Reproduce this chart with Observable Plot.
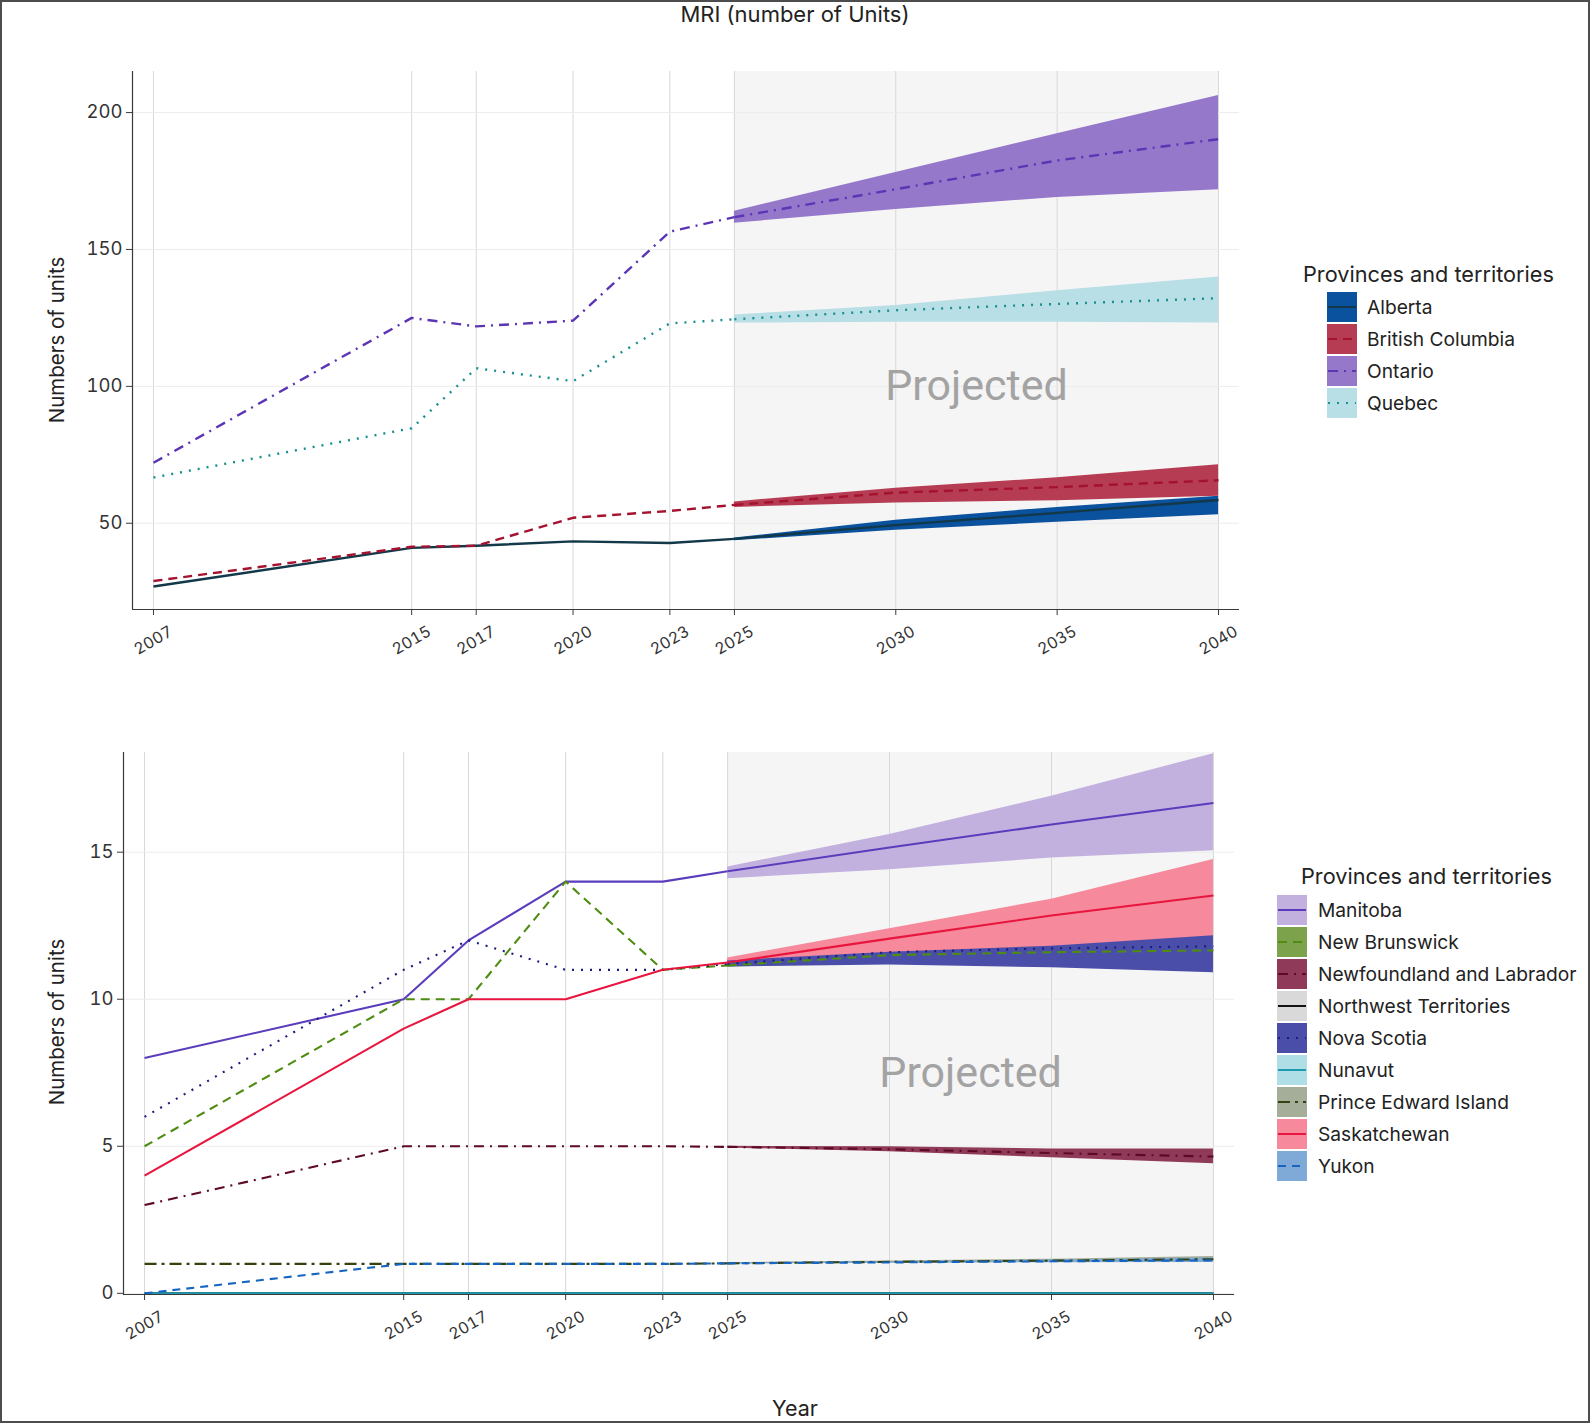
<!DOCTYPE html>
<html><head><meta charset="utf-8">
<script src="https://cdn.jsdelivr.net/npm/d3@7"></script>
<script src="https://cdn.jsdelivr.net/npm/@observablehq/plot@0.6"></script>
<style>
html,body{margin:0;padding:0;background:#fff;}
#root{position:relative;width:1590px;height:1423px;overflow:hidden;font-family:Inter,Roboto,sans-serif;color:#222;background:#fff;}
#frame{position:absolute;left:0;top:0;width:1590px;height:1423px;box-sizing:border-box;border:2px solid #4d4d4d;pointer-events:none;}
.abs{position:absolute;}
.title{left:0;width:1590px;top:2px;text-align:center;font-size:22px;line-height:24px;color:#222;}
.xlabel{left:0;width:1590px;top:1395px;text-align:center;font-size:21.5px;line-height:26px;color:#222;}
.ylabel{font-size:20.5px;white-space:nowrap;transform:translate(-50%,-50%) rotate(-90deg);color:#222;}
.legtitle{font-size:21.7px;line-height:24px;white-space:nowrap;color:#222;}
.legitem{font-size:19.2px;line-height:22px;white-space:nowrap;color:#222;}
svg.legsw{position:absolute;}
</style></head><body>
<div id="root">
  <div class="abs title">MRI (number of Units)</div>
  <div id="top" class="abs" style="left:0;top:0;"></div>
  <div id="bottom" class="abs" style="left:0;top:700px;"></div>
  <div class="abs ylabel" style="left:56px;top:340px;">Numbers of units</div>
  <div class="abs ylabel" style="left:56px;top:1022px;">Numbers of units</div>
  <div class="abs xlabel">Year</div>
  <div id="frame"></div>
</div>
<script>
// ---------- shared axes ----------
const histYears = [2007, 2015, 2017, 2020, 2023, 2025];
const projYears = [2025, 2030, 2035, 2040];
const xTickYears = [2007, 2015, 2017, 2020, 2023, 2025, 2030, 2035, 2040];
const topYTicks = [50, 100, 150, 200];
const bottomYTicks = [0, 5, 10, 15];
const projectedLabel = "Projected";
const legendTitle = "Provinces and territories";

// ---------- top panel: large provinces ----------
const topNames = ["Alberta", "British Columbia", "Ontario", "Quebec"];
const albertaHist = [26.9, 41.0, 41.8, 43.4, 42.8, 44.3];
const albertaProj = [44.3, 49.3, 53.8, 58.5];
const albertaLow  = [43.6, 47.4, 50.4, 53.1];
const albertaHigh = [44.6, 51.1, 55.8, 59.9];
const bcHist = [28.9, 41.4, 41.8, 52.0, 54.5, 56.7];
const bcProj = [56.7, 61.2, 63.2, 65.7];
const bcLow  = [55.8, 57.4, 58.2, 59.9];
const bcHigh = [57.8, 62.8, 66.6, 71.4];
const ontarioHist = [72.1, 125.0, 121.9, 124.0, 156.5, 161.8];
const ontarioProj = [161.8, 172.0, 182.5, 190.3];
const ontarioLow  = [159.6, 164.6, 169.0, 171.8];
const ontarioHigh = [164.0, 178.1, 192.3, 206.2];
const quebecHist = [66.7, 84.7, 106.6, 101.9, 123.0, 124.5];
const quebecProj = [124.5, 127.8, 130.1, 132.2];
const quebecLow  = [123.1, 123.4, 123.4, 123.1];
const quebecHigh = [126.1, 129.5, 134.9, 139.9];
const topBandColors = ["#0a529d", "#b63c53", "#9678cb", "#b8dfe6"];
const topLineColors = ["#12384a", "#a5122f", "#5c35b5", "#17908f"];
const topDashes = [null, "9,6", "10,6,2,6", "2,7"];

// ---------- bottom panel: smaller provinces & territories ----------
const bottomNames = ["Manitoba", "New Brunswick", "Newfoundland and Labrador", "Northwest Territories",
  "Nova Scotia", "Nunavut", "Prince Edward Island", "Saskatchewan", "Yukon"];
const manitobaHist = [8, 10, 12, 14, 14, 14.35];
const manitobaProj = [14.35, 15.16, 15.94, 16.67];
const manitobaLow  = [14.1, 14.4, 14.8, 15.05];
const manitobaHigh = [14.5, 15.6, 16.9, 18.35];
const nbHist = [5, 10, 10, 14, 11, 11.15];
const nbProj = [11.15, 11.5, 11.6, 11.66];
const nbLow  = [11.1, 11.2, 11.15, 11.1];
const nbHigh = [11.2, 11.55, 11.65, 11.75];
const nlHist = [3, 5, 5, 5, 5, 4.98];
const nlProj = [4.98, 4.9, 4.77, 4.65];
const nlLow  = [4.94, 4.81, 4.61, 4.41];
const nlHigh = [5.0, 4.98, 4.91, 4.91];
const nwtHist = [0, 0, 0, 0, 0, 0];
const nwtProj = [0, 0, 0, 0];
const nwtLow  = [0, 0, 0, 0];
const nwtHigh = [0, 0, 0, 0];
const nsHist = [6, 11, 12, 11, 11, 11.2];
const nsProj = [11.2, 11.6, 11.73, 11.8];
const nsLow  = [11.1, 11.16, 11.07, 10.9];
const nsHigh = [11.3, 11.6, 11.8, 12.16];
const nunavutHist = [0, 0, 0, 0, 0, 0];
const nunavutProj = [0, 0, 0, 0];
const nunavutLow  = [0, 0, 0, 0];
const nunavutHigh = [0, 0, 0, 0];
const peiHist = [1, 1, 1, 1, 1, 1.02];
const peiProj = [1.02, 1.07, 1.11, 1.16];
const peiLow  = [1.0, 1.03, 1.05, 1.07];
const peiHigh = [1.04, 1.1, 1.16, 1.25];
const skHist = [4, 9, 10, 10, 11, 11.25];
const skProj = [11.25, 12.06, 12.85, 13.53];
const skLow  = [11.15, 11.45, 11.7, 11.9];
const skHigh = [11.4, 12.4, 13.4, 14.75];
const yukonHist = [0, 1, 1, 1, 1, 1.02];
const yukonProj = [1.02, 1.05, 1.09, 1.12];
const yukonLow  = [1.0, 1.02, 1.04, 1.05];
const yukonHigh = [1.04, 1.08, 1.13, 1.2];
const bottomBandColors = ["#c2b1df", "#7ca34c", "#8f3a58", "#d9d9d9", "#4a4ea8", "#b0dee6", "#a5ae98", "#f6899b", "#7fa9d6"];
const bottomLineColors = ["#5b3cbc", "#4f8c12", "#5e0a25", "#111111", "#1b1b80", "#1e9aae", "#33420f", "#e8163f", "#1665c0"];
const bottomDashes = [null, "9,6", "10,6,2,6", null, "2,7", null, "12,5,3,5", null, "8,6"];
const bottomBandOrder = ["Manitoba", "Saskatchewan", "New Brunswick", "Nova Scotia", "Newfoundland and Labrador",
  "Prince Edward Island", "Yukon", "Northwest Territories", "Nunavut"];

// ---------- build panels ----------
function makePanel(cfg) {
  const series = cfg.names.map((name, i) => ({
    name,
    hist: histYears.map((x, j) => ({x, y: cfg.hist[i][j]})),
    proj: projYears.map((x, j) => ({x, y: cfg.proj[i][j], lo: cfg.low[i][j], hi: cfg.high[i][j]})),
    band: cfg.bandColors[i], line: cfg.lineColors[i], dash: cfg.dashes[i]
  }));
  const byName = new Map(series.map(s => [s.name, s]));
  const bandSeries = (cfg.bandOrder || cfg.names).map(nm => byName.get(nm));
  const p0 = projYears[0], p1 = projYears[projYears.length - 1];
  const marks = [
    Plot.rect([{x1: p0, x2: p1}], {x1: "x1", x2: "x2", fill: "#f5f5f5"}),
    Plot.gridX({ticks: xTickYears, stroke: "#d8d8d8", strokeOpacity: 1, strokeWidth: 1}),
    Plot.gridY({ticks: cfg.yTicks, stroke: "#ececec", strokeOpacity: 1, strokeWidth: 1}),
    Plot.text([{x: (p0 + p1) / 2, y: cfg.labelY, label: projectedLabel}],
      {x: "x", y: "y", text: "label", fontSize: 43, fill: "#a3a3a3", fontFamily: "Roboto"})
  ];
  for (const s of bandSeries) {
    marks.push(Plot.areaY(s.proj, {x: "x", y1: "lo", y2: "hi", fill: s.band, fillOpacity: 1}));
  }
  for (const s of series) {
    const o = {x: "x", y: "y", stroke: s.line, strokeWidth: cfg.strokeWidth, strokeLinecap: "butt", strokeLinejoin: "round"};
    if (s.dash) o.strokeDasharray = s.dash;
    marks.push(Plot.line(s.hist, o));
    marks.push(Plot.line(s.proj, o));
  }
  marks.push(
    Plot.ruleX([cfg.xDomain[0]], {stroke: "#3a3a3a", strokeWidth: 1.2}),
    Plot.ruleY([cfg.yDomain[0]], {stroke: "#3a3a3a", strokeWidth: 1.2}),
    Plot.axisX({ticks: xTickYears, tickFormat: d => String(d), tickRotate: -30, textAnchor: "middle",
      lineAnchor: "middle", tickSize: 6, tickPadding: 25, fontSize: 16, label: null, stroke: "#3a3a3a", fill: "#333"}),
    Plot.axisY({ticks: cfg.yTicks, tickFormat: d => String(d), tickSize: 6, tickPadding: 4, fontSize: 18.5,
      label: null, stroke: "#3a3a3a", fill: "#333"})
  );
  return Plot.plot({
    width: 1590, height: cfg.height,
    marginLeft: cfg.left, marginRight: 1590 - cfg.right, marginTop: cfg.top, marginBottom: cfg.height - cfg.bottom,
    x: {domain: cfg.xDomain, label: null},
    y: {domain: cfg.yDomain, label: null},
    style: {background: "transparent", fontFamily: "Inter, Roboto, sans-serif", overflow: "visible"},
    marks
  });
}

const topPlot = makePanel({
  names: topNames,
  hist: [albertaHist, bcHist, ontarioHist, quebecHist],
  proj: [albertaProj, bcProj, ontarioProj, quebecProj],
  low: [albertaLow, bcLow, ontarioLow, quebecLow],
  high: [albertaHigh, bcHigh, ontarioHigh, quebecHigh],
  bandColors: topBandColors, lineColors: topLineColors, dashes: topDashes,
  xDomain: [2006.35, 2040.65], yDomain: [18.5, 215], yTicks: topYTicks, labelY: 100,
  height: 680, left: 132, right: 1239, top: 71, bottom: 609, strokeWidth: 2.4
});
document.getElementById("top").appendChild(topPlot);

const bottomPlot = makePanel({
  names: bottomNames,
  hist: [manitobaHist, nbHist, nlHist, nwtHist, nsHist, nunavutHist, peiHist, skHist, yukonHist],
  proj: [manitobaProj, nbProj, nlProj, nwtProj, nsProj, nunavutProj, peiProj, skProj, yukonProj],
  low: [manitobaLow, nbLow, nlLow, nwtLow, nsLow, nunavutLow, peiLow, skLow, yukonLow],
  high: [manitobaHigh, nbHigh, nlHigh, nwtHigh, nsHigh, nunavutHigh, peiHigh, skHigh, yukonHigh],
  bandColors: bottomBandColors, lineColors: bottomLineColors, dashes: bottomDashes, bandOrder: bottomBandOrder,
  xDomain: [2006.35, 2040.65], yDomain: [-0.04, 18.39], yTicks: bottomYTicks, labelY: 7.5,
  height: 660, left: 123, right: 1234, top: 52, bottom: 594, strokeWidth: 2.1
});
document.getElementById("bottom").appendChild(bottomPlot);

// ---------- legends ----------
function legend(cfg) {
  const root = document.getElementById("root");
  const t = document.createElement("div");
  t.className = "abs legtitle";
  t.textContent = legendTitle;
  t.style.left = cfg.titleX + "px";
  t.style.top = (cfg.titleY - 12) + "px";
  root.appendChild(t);
  cfg.names.forEach((name, i) => {
    const cy = cfg.y0 + i * cfg.step;
    const svg = d3.create("svg").attr("class", "legsw").attr("width", 30).attr("height", 30)
      .style("left", cfg.swX + "px").style("top", (cy - 15) + "px");
    svg.append("rect").attr("width", 30).attr("height", 30).attr("fill", cfg.bands[i]);
    const ln = svg.append("line").attr("x1", 1).attr("x2", 29).attr("y1", 15).attr("y2", 15)
      .attr("stroke", cfg.lines[i]).attr("stroke-width", 2);
    if (cfg.dashes[i]) ln.attr("stroke-dasharray", cfg.dashes[i]);
    root.appendChild(svg.node());
    const lab = document.createElement("div");
    lab.className = "abs legitem";
    lab.textContent = name;
    lab.style.left = cfg.labX + "px";
    lab.style.top = (cy - 11) + "px";
    root.appendChild(lab);
  });
}
legend({names: topNames, bands: topBandColors, lines: topLineColors, dashes: topDashes,
  titleX: 1303, titleY: 274, swX: 1327, labX: 1367, y0: 307, step: 32});
legend({names: bottomNames, bands: bottomBandColors, lines: bottomLineColors, dashes: bottomDashes,
  titleX: 1301, titleY: 876, swX: 1277, labX: 1318, y0: 910, step: 32.06});
</script>
</body></html>
